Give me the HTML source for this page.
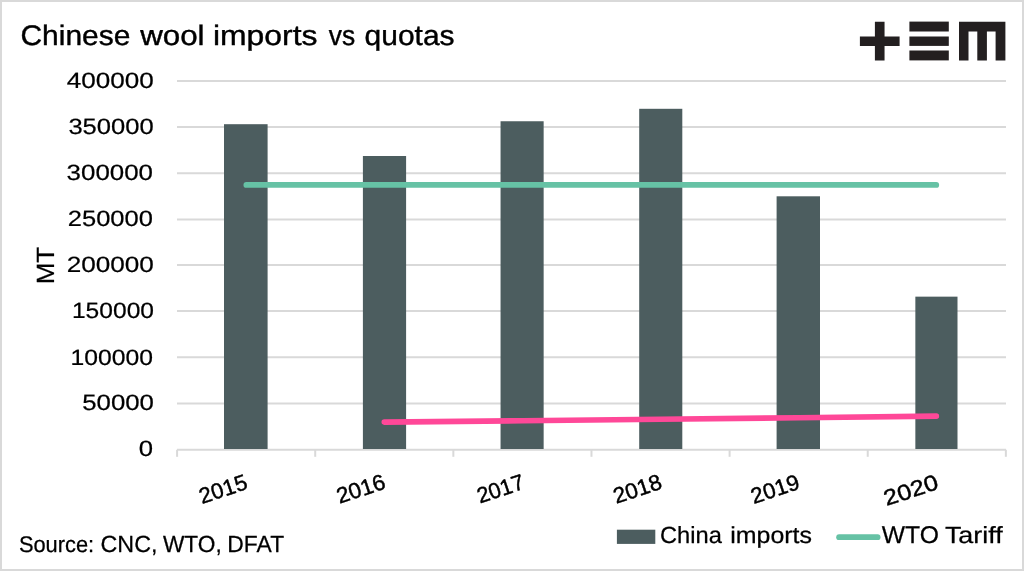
<!DOCTYPE html>
<html lang="en">
<head>
<meta charset="utf-8">
<title>Chinese wool imports vs quotas</title>
<style>
html,body{margin:0;padding:0;background:#fff;}
body{width:1024px;height:571px;overflow:hidden;}
svg{display:block;}
text{font-family:"Liberation Sans",Arial,Helvetica,sans-serif;fill:#000;text-rendering:geometricPrecision;}
</style>
</head>
<body>
<svg width="1024" height="571" viewBox="0 0 1024 571" role="img" aria-label="Chinese wool imports vs quotas">
<rect x="0" y="0" width="1024" height="571" fill="#ffffff"/>
<rect x="1" y="1" width="1022" height="569" fill="none" stroke="#d9d9d9" stroke-width="2"/>
<g stroke="#d9d9d9" stroke-width="2.0" fill="none">
<line x1="177.0" y1="449.78" x2="1006.0" y2="449.78"/>
<line x1="177.0" y1="403.46" x2="1006.0" y2="403.46"/>
<line x1="177.0" y1="357.15" x2="1006.0" y2="357.15"/>
<line x1="177.0" y1="311.04" x2="1006.0" y2="311.04"/>
<line x1="177.0" y1="264.96" x2="1006.0" y2="264.96"/>
<line x1="177.0" y1="219.46" x2="1006.0" y2="219.46"/>
<line x1="177.0" y1="173.15" x2="1006.0" y2="173.15"/>
<line x1="177.0" y1="127.04" x2="1006.0" y2="127.04"/>
<line x1="177.0" y1="80.88" x2="1006.0" y2="80.88"/>
<line x1="177.10" y1="449.78" x2="177.10" y2="456.80"/>
<line x1="315.23" y1="449.78" x2="315.23" y2="456.80"/>
<line x1="453.35" y1="449.78" x2="453.35" y2="456.80"/>
<line x1="591.48" y1="449.78" x2="591.48" y2="456.80"/>
<line x1="729.60" y1="449.78" x2="729.60" y2="456.80"/>
<line x1="867.73" y1="449.78" x2="867.73" y2="456.80"/>
<line x1="1005.85" y1="449.78" x2="1005.85" y2="456.80"/>
</g>
<g fill="#4c5d5f">
<rect x="224.00" y="124.20" width="43.60" height="324.80"/>
<rect x="362.90" y="156.00" width="43.20" height="293.00"/>
<rect x="500.55" y="121.25" width="43.10" height="327.75"/>
<rect x="639.20" y="108.80" width="43.10" height="340.20"/>
<rect x="776.60" y="196.30" width="43.40" height="252.70"/>
<rect x="915.35" y="296.65" width="42.15" height="152.35"/>
</g>
<line x1="246.36" y1="184.95" x2="936.24" y2="184.95" stroke="#66c2a5" stroke-width="5.8" stroke-linecap="round"/>
<polyline points="384.29,422.09 522.41,420.71 660.54,419.25 798.66,417.73 936.34,416.13" fill="none" stroke="#ff4898" stroke-width="5.6" stroke-linecap="round" stroke-linejoin="round"/>
<g font-size="28.2" stroke="#000" stroke-width="0.4" stroke-linejoin="round">
<text transform="translate(20.45,45.40) scale(1.0622,1)">Chinese</text>
<text transform="translate(140.15,45.40) scale(1.1115,1)">wool</text>
<text transform="translate(213.00,45.40) scale(1.1304,1)">imports</text>
<text transform="translate(328.80,45.40) scale(0.9346,1)">vs</text>
<text transform="translate(364.60,45.40) scale(1.0628,1)">quotas</text>
</g>
<g font-size="22.0" stroke="#000" stroke-width="0.2" stroke-linejoin="round">
<text transform="translate(66.80,88.40) scale(1.1855,1)">400000</text>
<text transform="translate(68.40,134.40) scale(1.1625,1)">350000</text>
<text transform="translate(66.60,179.80) scale(1.1771,1)">300000</text>
<text transform="translate(67.75,225.80) scale(1.1596,1)">250000</text>
<text transform="translate(66.65,272.30) scale(1.1875,1)">200000</text>
<text transform="translate(71.95,318.40) scale(1.1172,1)">150000</text>
<text transform="translate(70.45,364.60) scale(1.1235,1)">100000</text>
<text transform="translate(82.20,409.90) scale(1.1732,1)">50000</text>
<text transform="translate(138.65,456.00) scale(1.1676,1)">0</text>
</g>
<g font-size="22.0" stroke="#000" stroke-width="0.45" stroke-linejoin="round">
<text transform="translate(202.10,503.97) rotate(-18.4) scale(1.0092,1)">2015</text>
<text transform="translate(339.49,503.79) rotate(-18.4) scale(1.0227,1)">2016</text>
<text transform="translate(479.88,503.57) rotate(-18.4) scale(0.9880,1)">2017</text>
<text transform="translate(616.16,503.87) rotate(-18.4) scale(1.0149,1)">2018</text>
<text transform="translate(753.83,503.95) rotate(-18.4) scale(1.0163,1)">2019</text>
<text transform="translate(886.59,506.12) rotate(-18.4) scale(1.1477,1)">2020</text>
</g>
<text transform="translate(53.85,284.29) rotate(-90) scale(1.0448,1)" font-size="24.9" stroke="#000" stroke-width="0.2" stroke-linejoin="round">MT</text>
<g font-size="23.4" stroke="#000" stroke-width="0.25" stroke-linejoin="round">
<text transform="translate(18.90,551.50) scale(0.9667,1)" font-size="22.6">Source:</text>
<text transform="translate(100.50,551.50) scale(0.9963,1)">CNC,</text>
<text transform="translate(162.90,551.50) scale(0.9702,1)">WTO,</text>
<text transform="translate(227.35,551.50) scale(0.9777,1)">DFAT</text>
</g>
<rect x="616.9" y="529.7" width="38.4" height="14.2" fill="#4c5d5f"/>
<line x1="839.1" y1="537.2" x2="877.6" y2="537.2" stroke="#66c2a5" stroke-width="5.8" stroke-linecap="round"/>
<g font-size="23.8" stroke="#000" stroke-width="0.25" stroke-linejoin="round">
<text transform="translate(660.00,543.15) scale(1.0116,1)" font-size="23.4">China</text>
<text transform="translate(730.20,543.15) scale(1.0753,1)" font-size="23.2">imports</text>
<text transform="translate(881.80,543.15) scale(1.0163,1)" font-size="24.3">WTO</text>
<text transform="translate(944.90,543.15) scale(1.1500,1)" font-size="23.4">Tariff</text>
</g>
<g fill="#231f20">
<path d="M859.9 36.5H874.9V21.8H884.55V36.5H899.6V45.9H884.55V60.4H874.9V45.9H859.9Z"/>
<rect x="909.4" y="21.6" width="39.4" height="9.9"/>
<rect x="909.4" y="36.5" width="39.4" height="9.4"/>
<rect x="909.4" y="50.5" width="39.4" height="9.9"/>
<path d="M959 21.7H1005.4V60.4H995.6V31.4H986.9V60.4H977.3V31.4H968.5V60.4H959Z"/>
</g>
</svg>
</body>
</html>
